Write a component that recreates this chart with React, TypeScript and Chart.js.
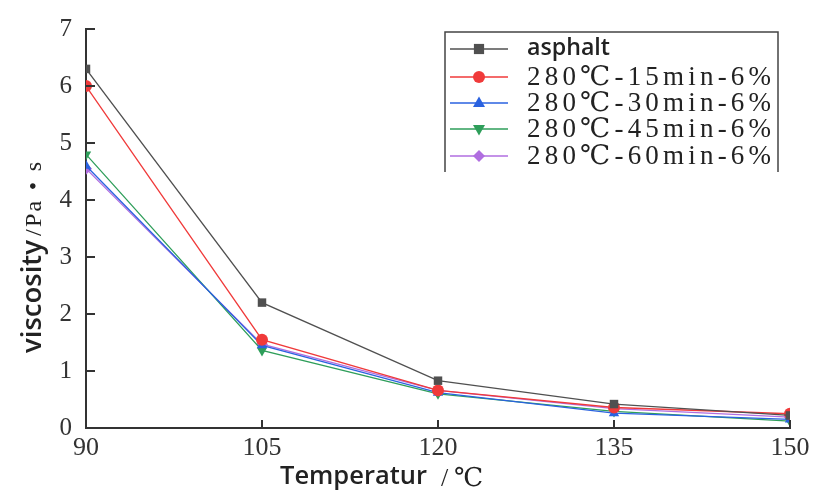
import React, { useEffect, useRef } from "react";
import { Chart, registerables } from "chart.js";

Chart.register(...registerables);

const temperatures = [90, 105, 120, 135, 150];
const asphalt = [6.3, 2.2, 0.83, 0.42, 0.22];
const s15 = [6.0, 1.55, 0.66, 0.36, 0.25];
const s30 = [4.6, 1.45, 0.62, 0.26, 0.15];
const s45 = [4.8, 1.36, 0.6, 0.29, 0.12];
const s60 = [4.55, 1.47, 0.66, 0.34, 0.19];
const seriesLabels = ["asphalt", "280℃-15min-6%", "280℃-30min-6%", "280℃-45min-6%", "280℃-60min-6%"];
const xTicks = [90, 105, 120, 135, 150];
const yTicks = [0, 1, 2, 3, 4, 5, 6, 7];

const colors = ["#505050", "#f03a3a", "#2a62e0", "#2e9e5a", "#b06ee0"];
const markers = ["rect", "circle", "triangle", "triangle", "rectRot"];
const rotations = [0, 0, 0, 180, 0];

const SANS = "'Open Sans', 'Noto Sans', sans-serif";
const SERIF = "'Liberation Serif', 'DejaVu Serif', serif";

function fitSize(ctx: any, text: string, target: number, weight: string, family: string) {
  ctx.font = `${weight} 20px ${family}`;
  const w = ctx.measureText(text).width;
  const size = (20 * target) / w;
  ctx.font = `${weight} ${size}px ${family}`;
  return size;
}

function spacedText(ctx: any, text: string, x: number, y: number, target: number) {
  const chars = Array.from(text);
  const widths = chars.map((c) => ctx.measureText(c).width);
  const total = widths.reduce((a, b) => a + b, 0);
  const gap = (target - total) / (chars.length - 1);
  let cx = x;
  chars.forEach((c, i) => {
    ctx.fillText(c, cx, y);
    cx += widths[i] + gap;
  });
}

const overlay = {
  id: "overlay",
  afterDraw(chart: any) {
    const ctx = chart.ctx;
    const { left, bottom } = chart.chartArea;
    const xs = chart.scales.x;
    const ys = chart.scales.y;
    ctx.save();
    // inward ticks
    ctx.strokeStyle = "#333";
    ctx.lineWidth = 2;
    xTicks.forEach((t) => {
      const px = xs.getPixelForValue(t);
      ctx.beginPath();
      ctx.moveTo(px, bottom);
      ctx.lineTo(px, bottom - 8);
      ctx.stroke();
    });
    yTicks.forEach((t) => {
      const py = ys.getPixelForValue(t);
      ctx.beginPath();
      ctx.moveTo(left, py);
      ctx.lineTo(left + 9, py);
      ctx.stroke();
    });
    // x title
    ctx.fillStyle = "#222";
    ctx.textBaseline = "middle";
    ctx.textAlign = "left";
    fitSize(ctx, "Temperatur", 147, "600", SANS);
    ctx.fillText("Temperatur", 280, 477);
    ctx.font = `26px ${SERIF}`;
    ctx.fillText("/", 441, 479);
    ctx.fillText("℃", 454, 479);
    // y title
    ctx.save();
    ctx.translate(33, 353);
    ctx.rotate(-Math.PI / 2);
    fitSize(ctx, "viscosity", 113, "600", SANS);
    ctx.fillText("viscosity", 0, 0);
    ctx.font = `24px ${SERIF}`;
    spacedText(ctx, "/Pa • s", 117, 2, 74);
    ctx.restore();
    // legend
    const lx = 445, ly = 32, lw = 333, lh = 140;
    ctx.strokeStyle = "#444";
    ctx.lineWidth = 1.5;
    ctx.beginPath();
    ctx.moveTo(lx, ly + lh);
    ctx.lineTo(lx, ly);
    ctx.lineTo(lx + lw, ly);
    ctx.lineTo(lx + lw, ly + lh);
    ctx.stroke();
    const rows = [49, 77, 103, 129, 156];
    chart.data.datasets.forEach((ds: any, i: number) => {
      const y = rows[i];
      ctx.strokeStyle = ds.borderColor;
      ctx.lineWidth = 1.5;
      ctx.beginPath();
      ctx.moveTo(450, y);
      ctx.lineTo(508, y);
      ctx.stroke();
      ctx.fillStyle = ds.backgroundColor;
      drawPoint(ctx, ds.pointStyle, 6, 479, y, ds.pointRotation || 0);
      ctx.fillStyle = "#222";
      ctx.textAlign = "left";
      ctx.textBaseline = "middle";
      if (i === 0) {
        fitSize(ctx, ds.label, 83, "600", SANS);
        ctx.fillText(ds.label, 527, y - 1);
      } else {
        ctx.font = `27px ${SERIF}`;
        spacedText(ctx, ds.label, 527, y + 1, 244);
      }
    });
    ctx.restore();
  },
};

function drawPoint(ctx: any, style: string, r: number, x: number, y: number, rot: number) {
  ctx.save();
  ctx.translate(x, y);
  ctx.rotate((rot * Math.PI) / 180);
  ctx.beginPath();
  if (style === "rect") {
    ctx.rect(-r * 0.85, -r * 0.85, r * 1.7, r * 1.7);
  } else if (style === "circle") {
    ctx.arc(0, 0, r, 0, Math.PI * 2);
  } else if (style === "triangle") {
    ctx.moveTo(0, -r * 1.1);
    ctx.lineTo(r * 1.0, r * 0.65);
    ctx.lineTo(-r * 1.0, r * 0.65);
    ctx.closePath();
  } else if (style === "rectRot") {
    ctx.moveTo(0, -r);
    ctx.lineTo(r, 0);
    ctx.lineTo(0, r);
    ctx.lineTo(-r, 0);
    ctx.closePath();
  }
  ctx.fill();
  ctx.restore();
}

export default function App() {
  const ref = useRef<HTMLCanvasElement>(null);
  useEffect(() => {
    document.body.style.margin = "0";
    const all = [asphalt, s15, s30, s45, s60];
    const chart = new Chart(ref.current!, {
      type: "line",
      data: {
        datasets: all.map((vals, i) => ({
          label: seriesLabels[i],
          data: temperatures.map((t, j) => ({ x: t, y: vals[j] })),
          borderColor: colors[i],
          backgroundColor: colors[i],
          borderWidth: 1.3,
          pointStyle: markers[i] as any,
          pointRotation: rotations[i],
          pointRadius: 6,
          pointBorderWidth: 0,
          tension: 0,
        })),
      },
      options: {
        animation: false,
        responsive: false,
        layout: { padding: { top: 24, right: 28, left: 0, bottom: 0 } },
        plugins: { legend: { display: false }, tooltip: { enabled: false } },
        scales: {
          x: {
            type: "linear",
            min: 90,
            max: 150,
            afterBuildTicks: (s: any) => {
              s.ticks = xTicks.map((v) => ({ value: v }));
            },
            afterFit: (s: any) => {
              s.height = 67;
            },
            grid: { drawOnChartArea: false, drawTicks: false },
            border: { display: true, color: "#333", width: 2 },
            ticks: {
              color: "#333",
              font: { family: SERIF, size: 26 },
              padding: 5,
              maxRotation: 0,
            },
          },
          y: {
            min: 0,
            max: 7,
            afterBuildTicks: (s: any) => {
              s.ticks = yTicks.map((v) => ({ value: v }));
            },
            afterFit: (s: any) => {
              s.width = 86;
            },
            grid: { drawOnChartArea: false, drawTicks: false },
            border: { display: true, color: "#333", width: 2 },
            ticks: {
              color: "#333",
              font: { family: SERIF, size: 25 },
              padding: 14,
            },
          },
        },
      },
      plugins: [overlay],
    });
    return () => chart.destroy();
  }, []);
  return <canvas ref={ref} width={818} height={495} style={{ display: "block" }} />;
}
